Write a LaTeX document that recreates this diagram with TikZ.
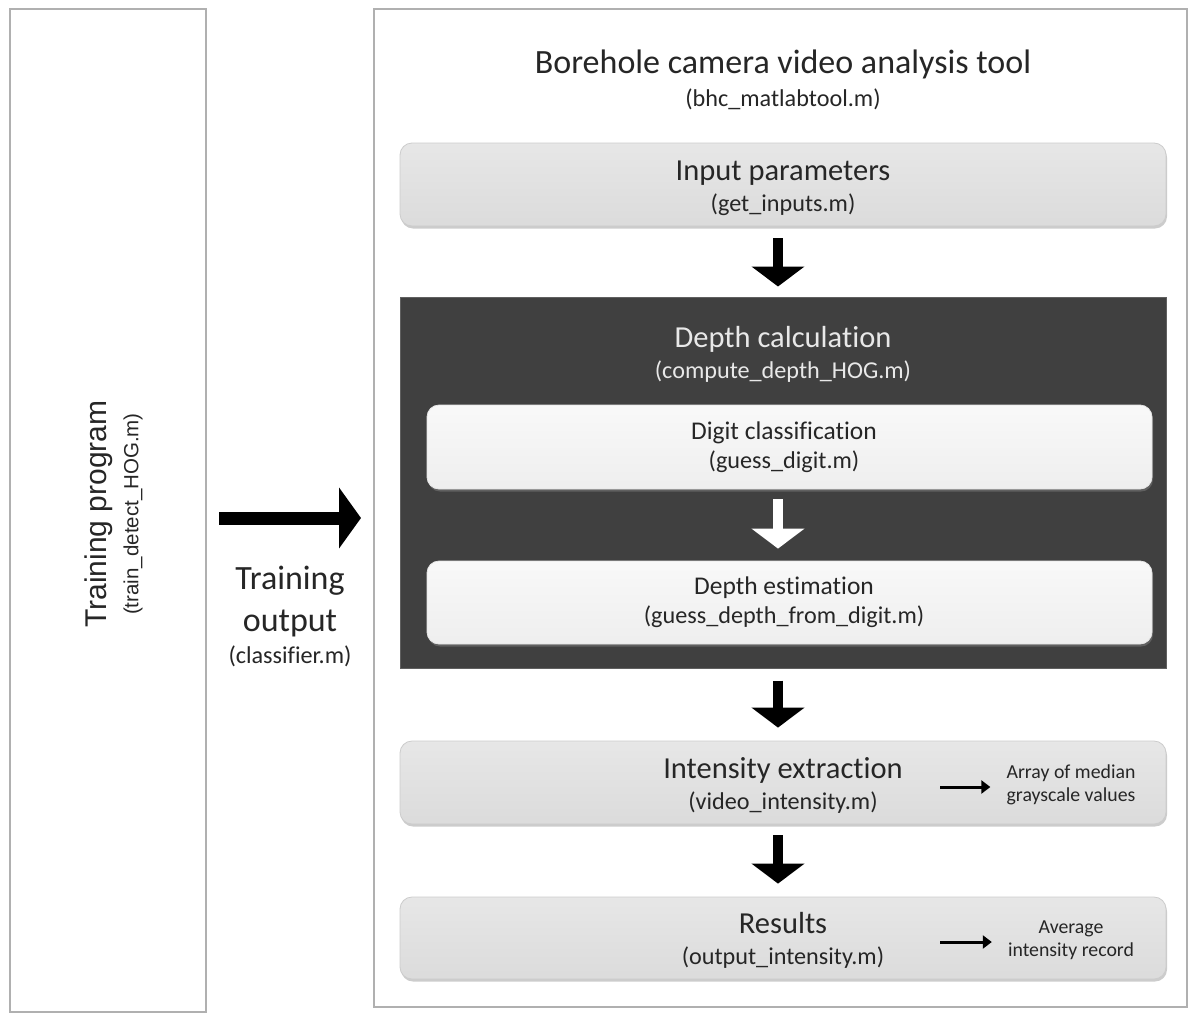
\documentclass[tikz,border=0pt]{standalone}
\usepackage{fontspec}
\setmainfont{Carlito}[Ligatures=NoCommon]
\newfontfamily\arialf{Liberation Sans}
\usetikzlibrary{arrows.meta,shadows}
\definecolor{darkbg}{HTML}{404040}
\definecolor{txt}{HTML}{262626}
\definecolor{ltxt}{HTML}{E8E8E8}
\tikzset{
  panel/.style={draw=gray!62, line width=2pt, fill=white},
  gbox/.style={rounded corners=12pt, draw=gray!40, line width=0.8pt, top color=gray!19, bottom color=gray!28,
    drop shadow={shadow xshift=1pt, shadow yshift=-2.5pt, opacity=0.4}},
  lbox/.style={rounded corners=12pt, draw=gray!20, line width=0.8pt, top color=gray!5, bottom color=gray!13,
    drop shadow={shadow xshift=1pt, shadow yshift=-2.5pt, opacity=0.5}},
  dbox/.style={draw=gray!75!black, line width=1pt, fill=darkbg},
  bigarrow/.style={line width=10pt, -{Triangle[width=52pt,length=20pt]}},
  trarrow/.style={line width=13pt, -{Triangle[width=60pt,length=22pt]}},
  smallarrow/.style={line width=3pt, -{Triangle[width=13pt,length=9pt]}},
  tA/.style={anchor=base, text=txt, inner sep=0pt, font=\fontsize{30.5}{35}\selectfont},
  tB/.style={anchor=base, text=txt, inner sep=0pt, font=\fontsize{24.2}{28}\selectfont},
  tC/.style={anchor=base, text=txt, inner sep=0pt, font=\fontsize{25.5}{29}\selectfont},
  tS/.style={text=txt, inner sep=0pt, align=center, font=\fontsize{19.8}{23}\selectfont},
}
\begin{document}
\begin{tikzpicture}[x=1pt,y=-1pt]
\fill[white] (0,0) rectangle (1192,1015);
\useasboundingbox (0,0) rectangle (1192,1015);

% panels
\node[panel, minimum width=196, minimum height=1003] (left) at (108,510.5) {};
\node[panel, minimum width=813, minimum height=998] (right) at (780.5,508) {};

% left panel text
\node[rotate=90, text=txt, inner sep=0pt, font=\arialf\fontsize{30}{34}\selectfont] (tp) at (99,514) {Training program};
\node[rotate=90, text=txt, inner sep=0pt, font=\arialf\fontsize{20.5}{24}\selectfont] (tpf) at (133,514) {(train\_detect\_HOG.m)};

% title
\node[anchor=base, text=txt, inner sep=0pt, font=\fontsize{34}{39}\selectfont] (title) at (783,73) {Borehole camera video analysis tool};
\node[tB] (titlef) at (783,106) {(bhc\_matlabtool.m)};

% boxes
\node[gbox, minimum width=766, minimum height=83] (inp) at (783,184.5) {};
\node[tA] at (783,180) {Input parameters};
\node[tB] at (783,211) {(get\_inputs.m)};

\node[dbox, minimum width=766, minimum height=371] (dark) at (783,482.5) {};
\node[tA, text=ltxt] at (783,347) {Depth calculation};
\node[tB, text=ltxt] at (783,378) {(compute\_depth\_HOG.m)};

\node[lbox, minimum width=725, minimum height=84] (dig) at (789.5,447) {};
\node[tC] at (784,439) {Digit classification};
\node[tB] at (784,468) {(guess\_digit.m)};

\node[lbox, minimum width=725, minimum height=83] (dep) at (789.5,602.5) {};
\node[tC] at (784,594) {Depth estimation};
\node[tB] at (784,623) {(guess\_depth\_from\_digit.m)};

\node[gbox, minimum width=766, minimum height=83] (ie) at (783,782.5) {};
\node[tA] at (783,778) {Intensity extraction};
\node[tB] at (783,809) {(video\_intensity.m)};
\node[tS] (arr1) at (1071,785) {Array of median\\grayscale values};

\node[gbox, minimum width=766, minimum height=82] (res) at (783,938) {};
\node[tA] at (783,933) {Results};
\node[tB] at (783,964) {(output\_intensity.m)};
\node[tS] (arr2) at (1071,940) {Average\\intensity record};

% training output text
\node[anchor=base, text=txt, inner sep=0pt, font=\fontsize{34}{38}\selectfont] (to1) at (290,589) {Training};
\node[anchor=base, text=txt, inner sep=0pt, font=\fontsize{34}{38}\selectfont] (to2) at (290,631) {output};
\node[tB] (to3) at (290,663) {(classifier.m)};

% connectors
\draw[bigarrow, shorten <=12pt, shorten >=10pt] ([xshift=-5pt]inp.south) -- ([xshift=-5pt]dark.north);
\draw[bigarrow, white, shorten <=10pt, shorten >=12pt] ([xshift=-11.5pt]dig.south) -- ([xshift=-11.5pt]dep.north);
\draw[bigarrow, shorten <=12pt, shorten >=13pt] ([xshift=-5pt]dark.south) -- ([xshift=-5pt]ie.north);
\draw[bigarrow, shorten <=11pt, shorten >=13pt] ([xshift=-5pt]ie.south) -- ([xshift=-5pt]res.north);

\coordinate (ty) at (0,518);
\draw[trarrow, shorten <=12pt, shorten >=12pt] (left.east |- ty) -- (right.west |- ty);

\coordinate (s1) at (940,787);
\coordinate (s2) at (940,942);
\draw[smallarrow, shorten >=16pt] (s1) -- (arr1.west |- s1);
\draw[smallarrow, shorten >=16pt] (s2) -- (arr2.west |- s2);
\end{tikzpicture}
\end{document}
